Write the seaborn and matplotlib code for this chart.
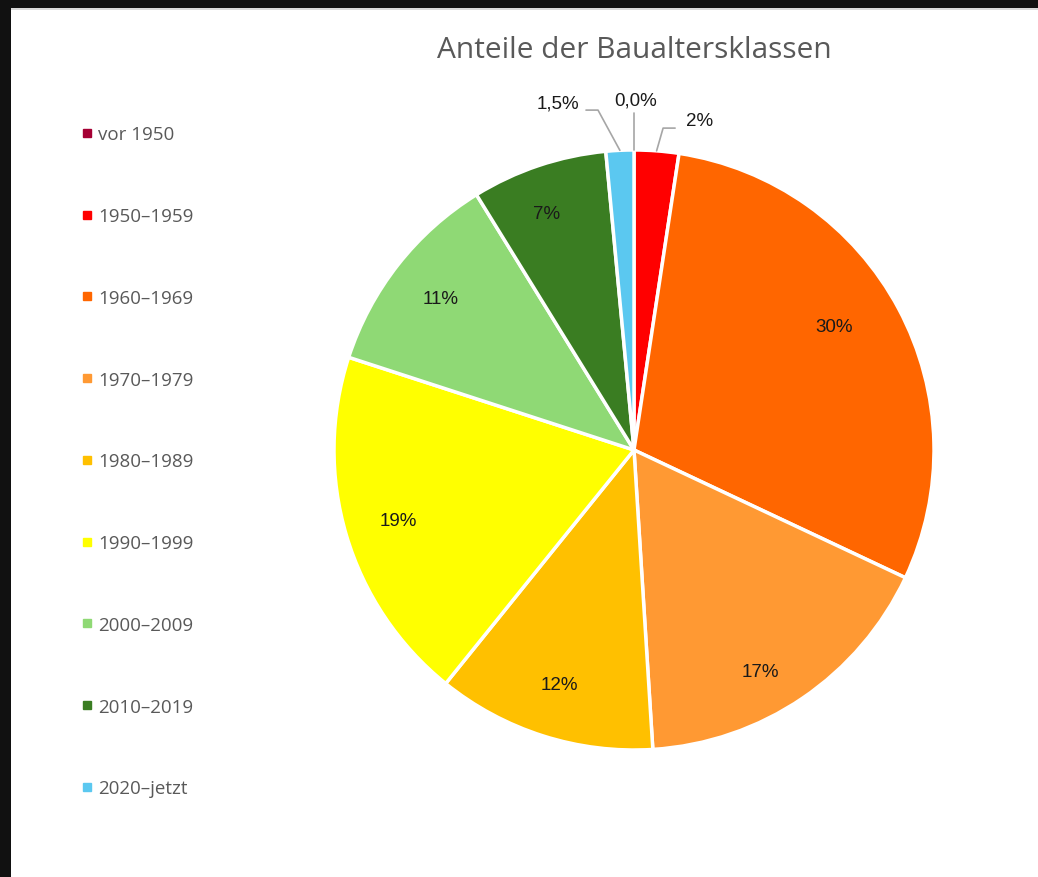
# -*- coding:utf-8 -*-

import numpy as np
import matplotlib
matplotlib.use("Agg")
import matplotlib.pyplot as plt
from matplotlib.patches import Rectangle
from matplotlib.lines import Line2D
import seaborn as sns

# Data
classes = ["vor 1950", "1950–1959", "1960–1969", "1970–1979", "1980–1989",
           "1990–1999", "2000–2009", "2010–2019", "2020–jetzt"]
shares = [0.0, 2.4, 29.6, 17.0, 11.8, 19.2, 11.2, 7.3, 1.5]
share_labels = ["0,0%", "2%", "30%", "17%", "12%", "19%", "11%", "7%", "1,5%"]
colors = ["#A50034", "#FF0000", "#FF6600", "#FF9933", "#FFC000",
          "#FFFF00", "#8FD975", "#3A7D22", "#5BC8F0"]


def show():
    sns.set_theme(style="white")
    plt.rcParams["font.family"] = ["Open Sans", "DejaVu Sans"]

    W, H = 1038, 878
    fig = plt.figure(figsize=(W / 100, H / 100), dpi=100, facecolor="#111111")
    # white chart area inside the dark frame
    fig.patches.append(Rectangle((11 / W, 0), 1 - 11 / W, 1 - 9 / H,
                                 transform=fig.transFigure, facecolor="white",
                                 edgecolor="none", zorder=-10))
    fig.patches.append(Rectangle((11 / W, 1 - 11 / H), 1 - 11 / W, 2 / H,
                                 transform=fig.transFigure, facecolor="#d9d9d9",
                                 edgecolor="none", zorder=-10))

    cx, cy, r = 634, 451, 300
    ax = fig.add_axes([(cx - r) / W, (H - cy - r) / H, 2 * r / W, 2 * r / H])
    ax.set_zorder(5)
    wedges, _ = ax.pie(shares, colors=colors, startangle=90, counterclock=False,
                       wedgeprops=dict(edgecolor="white", linewidth=2.5))
    ax.set_xlim(-1, 1)
    ax.set_ylim(-1, 1)
    ax.set_aspect("equal")
    ax.axis("off")

    label_font = dict(family=["Liberation Sans", "DejaVu Sans"], fontsize=13.5,
                      color="#1a1a1a")
    # label offsets for the small slices (text pos, elbow)
    outside = {
        0: ((0.007, 1.168), None),
        1: ((0.22, 1.10), (0.097, 1.073)),
        8: ((-0.255, 1.158), (-0.12, 1.133)),
    }
    # small nudges of the inside labels (data units)
    nudge = {2: (-0.055, 0.027), 3: (-0.04, -0.06), 7: (-0.03, 0.01)}
    for i, w in enumerate(wedges):
        mid = np.deg2rad((w.theta1 + w.theta2) / 2)
        ex, ey = np.cos(mid), np.sin(mid)
        if i in outside:
            (tx, ty), elbow = outside[i]
            if elbow is None:
                ax.plot([ex, ex], [ey, ty - 0.045], color="#a6a6a6", lw=1.2,
                        clip_on=False)
            else:
                hx = elbow[0] + (0.04 if tx > elbow[0] else -0.04)
                ax.plot([ex, elbow[0], hx], [ey, elbow[1], elbow[1]],
                        color="#a6a6a6", lw=1.2, clip_on=False)
            ax.text(tx, ty, share_labels[i], ha="center", va="center",
                    clip_on=False, **label_font)
        else:
            dx, dy = nudge.get(i, (0, 0))
            ax.text(0.82 * ex + dx, 0.82 * ey + dy, share_labels[i],
                    ha="center", va="center", **label_font)

    fig.text(634 / W, 1 - 51 / H, "Anteile der Baualtersklassen", ha="center",
             va="center", fontsize=21.5, color="#595959")

    handles = [Line2D([], [], marker="s", linestyle="none", markersize=6,
                      markerfacecolor=c, markeredgecolor=c) for c in colors]
    fig.legend(handles, classes, loc="upper left",
               bbox_to_anchor=(73 / W, 1 - 117 / H), frameon=False,
               fontsize=13.5, labelcolor="#595959", handlelength=0.5,
               handletextpad=0.35, labelspacing=3.4, borderpad=0)

    plt.savefig("out.png", dpi=100, facecolor=fig.get_facecolor())


if __name__ == '__main__':
    show()
